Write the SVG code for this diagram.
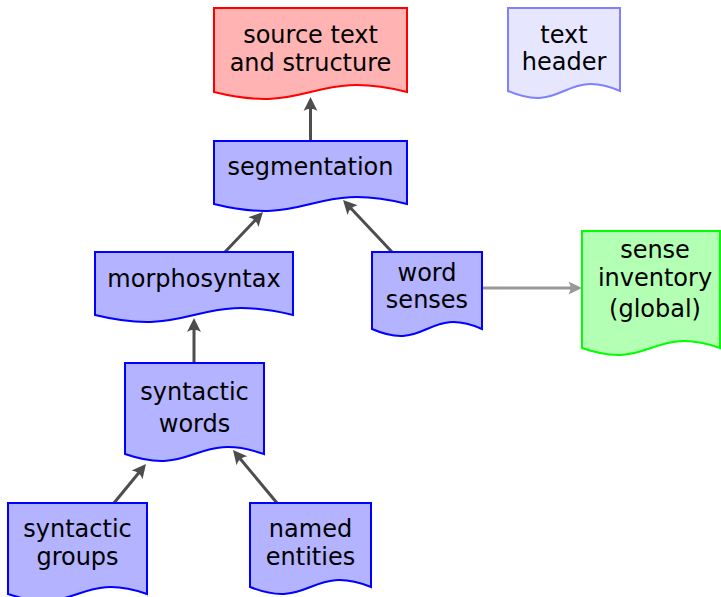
<svg xmlns="http://www.w3.org/2000/svg" width="721" height="597" viewBox="0 0 721 597">
  <style>
    .doc { stroke-width: 2; stroke-linejoin: miter; }
    .blue { fill: #b3b3ff; stroke: #0000ff; }
    .red { fill: #ffb3b3; stroke: #ff0000; }
    .pale { fill: #e6e6ff; stroke: #8080ff; }
    .green { fill: #b3ffb3; stroke: #00ff00; }
    text { font-family: "DejaVu Sans", sans-serif; font-size: 24px; fill: #000; text-anchor: middle; }
    .link { fill: none; stroke: #4d4d4d; stroke-width: 3; marker-end: url(#head); }
    .link-light { fill: none; stroke: #999999; stroke-width: 3; marker-end: url(#head-light); }
  </style>
  <defs>
    <!-- stealth-style heads, tip 8px beyond the line end -->
    <marker id="head" markerUnits="userSpaceOnUse" viewBox="-8 -10 20 20" markerWidth="20" markerHeight="20" refX="0" refY="0" orient="auto" overflow="visible">
      <path d="M8,0 L-6,-7 Q-1.5,0 -6,7 Z" fill="#4d4d4d"/>
    </marker>
    <marker id="head-light" markerUnits="userSpaceOnUse" viewBox="-8 -10 20 20" markerWidth="20" markerHeight="20" refX="0" refY="0" orient="auto" overflow="visible">
      <path d="M8,0 L-5.5,-6.5 Q-1.5,0 -5.5,6.5 Z" fill="#999999"/>
    </marker>
  </defs>

  <!-- connectors -->
  <g id="connectors">
    <line class="link" x1="310.5" y1="141" x2="310.5" y2="105"/>
    <line class="link" x1="225" y1="252" x2="257.5" y2="217.8"/>
    <line class="link" x1="392" y1="252" x2="348.5" y2="205.8"/>
    <line class="link" x1="194" y1="363" x2="194" y2="326"/>
    <line class="link" x1="114" y1="503" x2="140.9" y2="470.2"/>
    <line class="link" x1="277" y1="503" x2="238.1" y2="456.2"/>
    <line class="link-light" x1="482" y1="288" x2="574" y2="288"/>
  </g>

  <!-- document nodes: straight top and sides, wavy bottom -->
  <g id="source-text">
    <path class="doc red" d="M214,8 H407 V92 C310.5,68 310.5,116 214,92 Z"/>
    <text x="310.5" y="43">source text</text>
    <text x="310.5" y="71">and structure</text>
  </g>

  <g id="text-header">
    <path class="doc pale" d="M508,8 H620 V91 C564,67 564,115 508,91 Z"/>
    <text x="564" y="43">text</text>
    <text x="564" y="70">header</text>
  </g>

  <g id="segmentation">
    <path class="doc blue" d="M214,141 H407 V204 C310.5,180 310.5,228 214,204 Z"/>
    <text x="310.5" y="175">segmentation</text>
  </g>

  <g id="morphosyntax">
    <path class="doc blue" d="M95,252 H293 V315 C194,291 194,339 95,315 Z"/>
    <text x="194" y="287">morphosyntax</text>
  </g>

  <g id="word-senses">
    <path class="doc blue" d="M372,252 H482 V329 C427,305 427,353 372,329 Z"/>
    <text x="427" y="281">word</text>
    <text x="427" y="308">senses</text>
  </g>

  <g id="sense-inventory">
    <path class="doc green" d="M582,231 H720 V348 C651,324 651,372 582,348 Z"/>
    <text x="655" y="258">sense</text>
    <text x="655" y="286">inventory</text>
    <text x="655" y="317">(global)</text>
  </g>

  <g id="syntactic-words">
    <path class="doc blue" d="M125,363 H264 V454 C194.5,430 194.5,478 125,454 Z"/>
    <text x="194.5" y="400">syntactic</text>
    <text x="194.5" y="432">words</text>
  </g>

  <g id="syntactic-groups">
    <path class="doc blue" d="M8,503 H147 V594 C77.5,570 77.5,618 8,594 Z"/>
    <text x="77.5" y="537">syntactic</text>
    <text x="77.5" y="565">groups</text>
  </g>

  <g id="named-entities">
    <path class="doc blue" d="M250,503 H371 V587 C310.5,563 310.5,611 250,587 Z"/>
    <text x="310.5" y="537">named</text>
    <text x="310.5" y="565">entities</text>
  </g>
</svg>
